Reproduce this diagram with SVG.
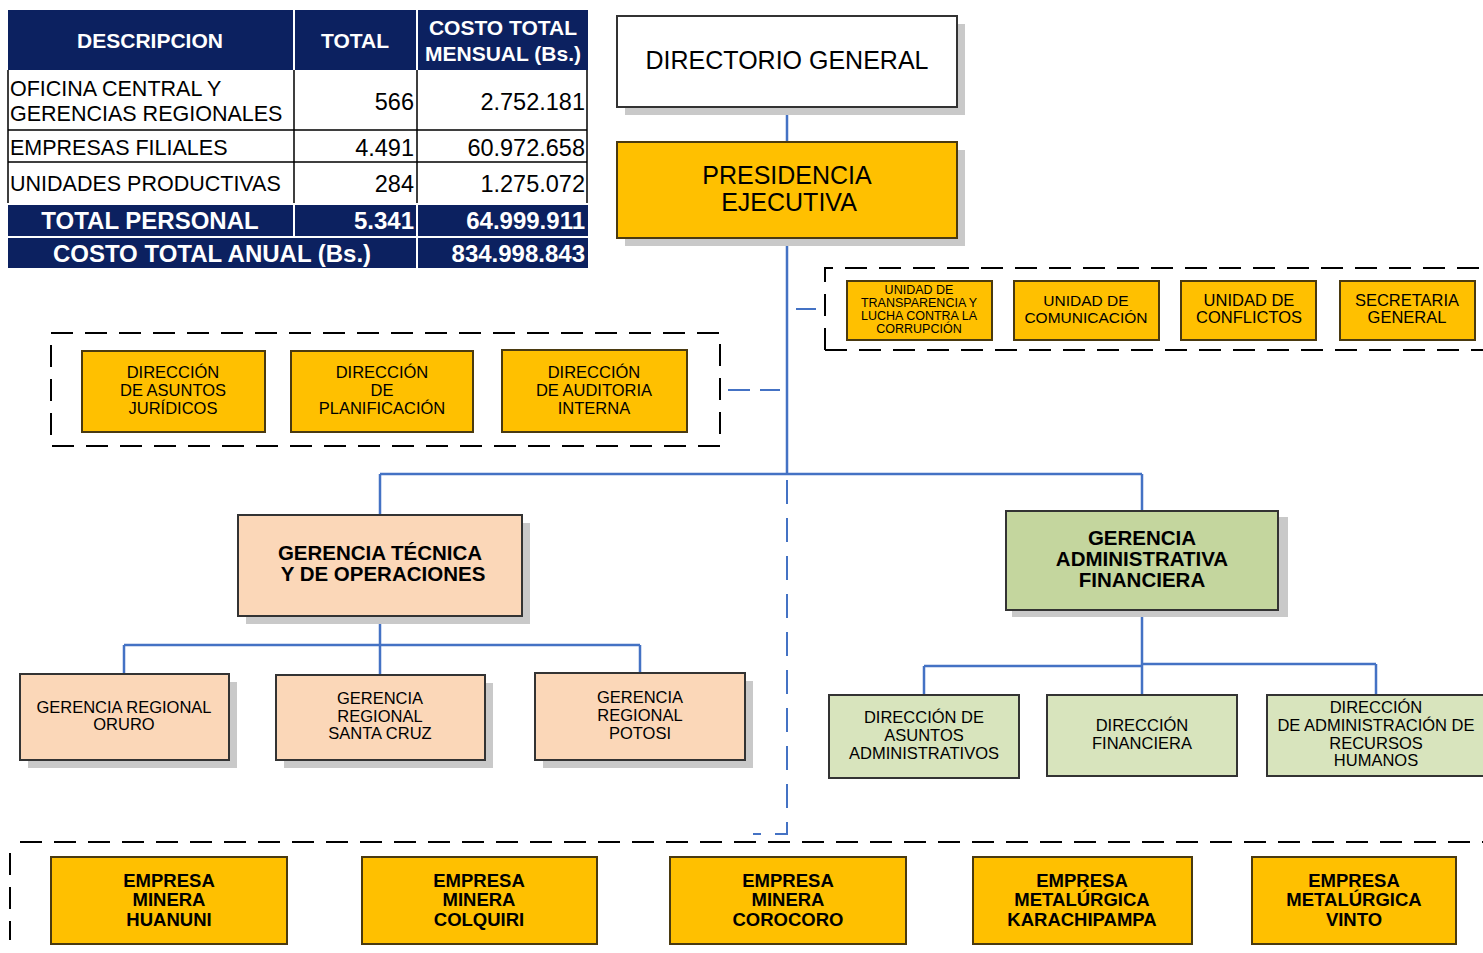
<svg xmlns="http://www.w3.org/2000/svg" width="1483" height="953" viewBox="0 0 1483 953">
<defs>
<style>
text{font-family:"Liberation Sans",Arial,sans-serif;fill:#000;text-anchor:middle}
.hd{fill:#fff;font-weight:bold;font-size:21px}
.tb{font-size:21.5px}
.nm{font-size:23.5px}
.r{text-anchor:end}
.l{text-anchor:start}
.tw{fill:#fff;font-weight:bold;font-size:24px}
.navy{fill:#0c2160}
.sh{fill:#c9c9c9}
.gold{fill:#FFC000;stroke:#4a3a10;stroke-width:2}
.peach{fill:#FBD7B8;stroke:#333;stroke-width:2}
.green{fill:#C4D69E;stroke:#333;stroke-width:2}
.lgreen{fill:#D8E4BD;stroke:#333;stroke-width:2}
.white{fill:#fff;stroke:#333;stroke-width:2}
.f16{font-size:16.5px}
.b20{font-size:20.5px;font-weight:bold}
.b18{font-size:18.5px;font-weight:bold}
.big{font-size:25px}
.con{stroke:#4472C4;stroke-width:2.5;fill:none}
.cond{stroke:#4472C4;stroke-width:2;fill:none}
.grp{stroke:#000;stroke-width:2;fill:none;stroke-dasharray:22,12}
</style>
</defs>
<rect width="1483" height="953" fill="#fff"/>

<g id="table">
<rect class="navy" x="8" y="10" width="285" height="60"/>
<rect class="navy" x="295" y="10" width="121" height="60"/>
<rect class="navy" x="418" y="10" width="170" height="60"/>
<text class="hd" x="150" y="48">DESCRIPCION</text>
<text class="hd" x="355" y="48">TOTAL</text>
<text class="hd" x="503" y="35">COSTO TOTAL</text>
<text class="hd" x="503" y="61">MENSUAL (Bs.)</text>
<g stroke="#000" stroke-width="1.5" fill="none">
<path d="M8 70 V203 M294 70 V203 M417 70 V203 M587 70 V203 M8 130 H587 M8 162 H587"/>
</g>
<text class="tb l" x="10" y="96">OFICINA CENTRAL Y</text>
<text class="tb l" x="10" y="121">GERENCIAS REGIONALES</text>
<text class="nm r" x="414" y="110">566</text>
<text class="nm r" x="585" y="110">2.752.181</text>
<text class="tb l" x="10" y="155">EMPRESAS FILIALES</text>
<text class="nm r" x="414" y="156">4.491</text>
<text class="nm r" x="585" y="156">60.972.658</text>
<text class="tb l" x="10" y="191">UNIDADES PRODUCTIVAS</text>
<text class="nm r" x="414" y="192">284</text>
<text class="nm r" x="585" y="192">1.275.072</text>
<rect class="navy" x="8" y="205" width="285" height="31"/>
<rect class="navy" x="295" y="205" width="121" height="31"/>
<rect class="navy" x="418" y="205" width="170" height="31"/>
<text class="tw" x="150" y="229">TOTAL PERSONAL</text>
<text class="tw r" x="414" y="229">5.341</text>
<text class="tw r" x="585" y="229">64.999.911</text>
<rect class="navy" x="8" y="238" width="408" height="30"/>
<rect class="navy" x="418" y="238" width="170" height="30"/>
<text class="tw" x="212" y="262">COSTO TOTAL ANUAL (Bs.)</text>
<text class="tw r" x="585" y="262">834.998.843</text>
</g>

<g id="connectors">
<path class="con" d="M787 107 V142 M787 238 V474 M380 474 H1142 M380 474 V515 M1142 474 V511"/>
<path class="cond" d="M787 480 V834 H753" stroke-dasharray="24,14"/>
<path class="cond" d="M796 309 H816"/>
<path class="cond" d="M728 390 H780" stroke-dasharray="22,10"/>
<path class="con" d="M380 616 V645 M124 645 H640 M124 645 V674 M380 645 V675 M640 645 V673"/>
<path class="con" d="M1142 610 V695 M924 666 H1142 M1142 664 H1376 M924 666 V695 M1376 664 V695"/>
<path class="grp" d="M825 350 V268 H1483 M825 350 H1483"/>
<path class="grp" d="M51 333 H720 V446 H51 Z"/>
<path class="grp" d="M20 842 H1483" stroke-width="2.5" stroke-dasharray="40,22"/>
<path class="grp" d="M10 853 V940" stroke-dasharray="32,23"/>
</g>

<g id="directorio">
<rect class="sh" x="625" y="24" width="340" height="91"/>
<rect class="white" x="617" y="16" width="340" height="91"/>
<text class="big" x="787" y="69">DIRECTORIO GENERAL</text>
</g>
<g id="presidencia">
<rect class="sh" x="625" y="150" width="340" height="96"/>
<rect class="gold" x="617" y="142" width="340" height="96"/>
<text class="big" x="787" y="184">PRESIDENCIA</text>
<text class="big" x="789" y="211">EJECUTIVA</text>
</g>

<g id="u-transparencia">
<rect class="gold" x="847" y="281" width="145" height="59"/>
<text x="919" y="294" font-size="12.5">UNIDAD DE</text>
<text x="919" y="307" font-size="12.5">TRANSPARENCIA Y</text>
<text x="919" y="320" font-size="12.5">LUCHA CONTRA LA</text>
<text x="919" y="333" font-size="12.5">CORRUPCIÓN</text>
</g>
<g id="u-comunicacion">
<rect class="gold" x="1014" y="281" width="145" height="59"/>
<text x="1086" y="306" font-size="15.5">UNIDAD DE</text>
<text x="1086" y="323" font-size="15.5">COMUNICACIÓN</text>
</g>
<g id="u-conflictos">
<rect class="gold" x="1181" y="281" width="135" height="59"/>
<text x="1249" y="306" font-size="16.5">UNIDAD DE</text>
<text x="1249" y="323" font-size="16.5">CONFLICTOS</text>
</g>
<g id="secretaria">
<rect class="gold" x="1340" y="281" width="135" height="59"/>
<text x="1407" y="306" font-size="16.5">SECRETARIA</text>
<text x="1407" y="323" font-size="16.5">GENERAL</text>
</g>

<g id="d-juridicos">
<rect class="gold" x="82" y="351" width="183" height="81"/>
<text class="f16" x="173" y="378">DIRECCIÓN</text>
<text class="f16" x="173" y="396">DE ASUNTOS</text>
<text class="f16" x="173" y="414">JURÍDICOS</text>
</g>
<g id="d-planificacion">
<rect class="gold" x="291" y="351" width="182" height="81"/>
<text class="f16" x="382" y="378">DIRECCIÓN</text>
<text class="f16" x="382" y="396">DE</text>
<text class="f16" x="382" y="414">PLANIFICACIÓN</text>
</g>
<g id="d-auditoria">
<rect class="gold" x="502" y="350" width="185" height="82"/>
<text class="f16" x="594" y="378">DIRECCIÓN</text>
<text class="f16" x="594" y="396">DE AUDITORIA</text>
<text class="f16" x="594" y="414">INTERNA</text>
</g>

<g id="g-tecnica">
<rect class="sh" x="246" y="523" width="284" height="101"/>
<rect class="peach" x="238" y="515" width="284" height="101"/>
<text class="b20" x="380" y="560">GERENCIA TÉCNICA</text>
<text class="b20" x="383" y="581">Y DE OPERACIONES</text>
</g>
<g id="gr-oruro">
<rect class="sh" x="28" y="682" width="209" height="86"/>
<rect class="peach" x="20" y="674" width="209" height="86"/>
<text class="f16" x="124" y="713">GERENCIA REGIONAL</text>
<text class="f16" x="124" y="730">ORURO</text>
</g>
<g id="gr-santacruz">
<rect class="sh" x="284" y="683" width="209" height="85"/>
<rect class="peach" x="276" y="675" width="209" height="85"/>
<text class="f16" x="380" y="704">GERENCIA</text>
<text class="f16" x="380" y="722">REGIONAL</text>
<text class="f16" x="380" y="739">SANTA CRUZ</text>
</g>
<g id="gr-potosi">
<rect class="sh" x="543" y="681" width="210" height="87"/>
<rect class="peach" x="535" y="673" width="210" height="87"/>
<text class="f16" x="640" y="703">GERENCIA</text>
<text class="f16" x="640" y="721">REGIONAL</text>
<text class="f16" x="640" y="739">POTOSI</text>
</g>

<g id="g-administrativa">
<rect class="sh" x="1012" y="517" width="276" height="100"/>
<rect class="green" x="1006" y="511" width="272" height="99"/>
<text class="b20" x="1142" y="545">GERENCIA</text>
<text class="b20" x="1142" y="566">ADMINISTRATIVA</text>
<text class="b20" x="1142" y="587">FINANCIERA</text>
</g>
<g id="d-asuntos-adm">
<rect class="lgreen" x="829" y="695" width="190" height="83"/>
<text class="f16" x="924" y="723">DIRECCIÓN DE</text>
<text class="f16" x="924" y="741">ASUNTOS</text>
<text class="f16" x="924" y="759">ADMINISTRATIVOS</text>
</g>
<g id="d-financiera">
<rect class="lgreen" x="1047" y="695" width="190" height="81"/>
<text class="f16" x="1142" y="731">DIRECCIÓN</text>
<text class="f16" x="1142" y="749">FINANCIERA</text>
</g>
<g id="d-rrhh">
<rect class="lgreen" x="1267" y="695" width="220" height="81"/>
<text class="f16" x="1376" y="713">DIRECCIÓN</text>
<text class="f16" x="1376" y="731">DE ADMINISTRACIÓN DE</text>
<text class="f16" x="1376" y="749">RECURSOS</text>
<text class="f16" x="1376" y="766">HUMANOS</text>
</g>

<g id="e-huanuni">
<rect class="gold" x="51" y="857" width="236" height="87" stroke-width="1.5"/>
<text class="b18" x="169" y="887">EMPRESA</text>
<text class="b18" x="169" y="906">MINERA</text>
<text class="b18" x="169" y="926">HUANUNI</text>
</g>
<g id="e-colquiri">
<rect class="gold" x="362" y="857" width="235" height="87" stroke-width="1.5"/>
<text class="b18" x="479" y="887">EMPRESA</text>
<text class="b18" x="479" y="906">MINERA</text>
<text class="b18" x="479" y="926">COLQUIRI</text>
</g>
<g id="e-corocoro">
<rect class="gold" x="670" y="857" width="236" height="87" stroke-width="1.5"/>
<text class="b18" x="788" y="887">EMPRESA</text>
<text class="b18" x="788" y="906">MINERA</text>
<text class="b18" x="788" y="926">COROCORO</text>
</g>
<g id="e-karachipampa">
<rect class="gold" x="973" y="857" width="219" height="87" stroke-width="1.5"/>
<text class="b18" x="1082" y="887">EMPRESA</text>
<text class="b18" x="1082" y="906">METALÚRGICA</text>
<text class="b18" x="1082" y="926">KARACHIPAMPA</text>
</g>
<g id="e-vinto">
<rect class="gold" x="1252" y="857" width="204" height="87" stroke-width="1.5"/>
<text class="b18" x="1354" y="887">EMPRESA</text>
<text class="b18" x="1354" y="906">METALÚRGICA</text>
<text class="b18" x="1354" y="926">VINTO</text>
</g>
</svg>
